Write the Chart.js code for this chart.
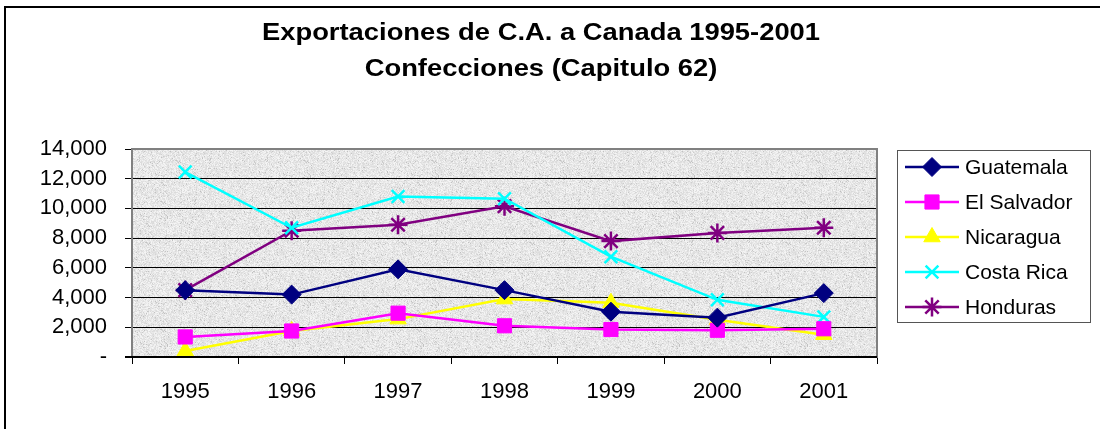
<!DOCTYPE html>
<html>
<head>
<meta charset="utf-8">
<script src="https://cdn.jsdelivr.net/npm/chart.js@4"></script>
<style>
  html, body { margin: 0; padding: 0; background: #fff; }
  #wrap { width: 1100px; height: 429px; }
</style>
</head>
<body>
<div id="wrap"><canvas id="myChart" width="1100" height="429"></canvas></div>
<script>
const years = ['1995', '1996', '1997', '1998', '1999', '2000', '2001']
const guatemala = [4500, 4200, 5900, 4500, 3050, 2650, 4300]
const elSalvador = [1350, 1750, 2950, 2100, 1850, 1800, 1900]
const nicaragua = [400, 1750, 2550, 3900, 3650, 2500, 1500]
const costaRica = [12450, 8700, 10800, 10650, 6750, 3850, 2700]
const honduras = [4500, 8500, 8900, 10150, 7800, 8350, 8700]
const titleLines = ['Exportaciones de C.A. a Canada 1995-2001', 'Confecciones (Capitulo 62)']

const font = 'Arial, "Liberation Sans", sans-serif'

function series(label, data, color, style, radius) {
  return {
    label: label,
    data: data,
    borderColor: color,
    backgroundColor: color,
    borderWidth: 2.5,
    pointStyle: style,
    pointRadius: radius,
    pointBorderWidth: style === 'crossRot' || style === 'star' ? 2.5 : 1,
    pointBorderColor: color,
    pointBackgroundColor: color,
    tension: 0
  }
}

// granite-like texture for the plot area
function makeTexture(ctx) {
  const c = document.createElement('canvas')
  c.width = 128
  c.height = 128
  const g = c.getContext('2d')
  const img = g.createImageData(128, 128)
  let s = 12345
  const rnd = () => { s = (s * 1103515245 + 12345) & 0x7fffffff; return s / 0x7fffffff }
  for (let i = 0; i < 128 * 128; i++) {
    const v = Math.round(232 + (rnd() - 0.5) * 28 - (rnd() < 0.07 ? 28 : 0))
    img.data[i * 4] = v
    img.data[i * 4 + 1] = v
    img.data[i * 4 + 2] = v
    img.data[i * 4 + 3] = 255
  }
  g.putImageData(img, 0, 0)
  return ctx.createPattern(c, 'repeat')
}

const decor = {
  id: 'decor',
  beforeDraw(chart) {
    const { ctx, chartArea: a } = chart
    ctx.save()
    ctx.fillStyle = makeTexture(ctx)
    ctx.fillRect(a.left, a.top, a.right - a.left, a.bottom - a.top)
    ctx.restore()
  },
  afterDraw(chart) {
    const { ctx, chartArea: a } = chart
    ctx.save()
    // plot border and axis
    ctx.strokeStyle = '#808080'
    ctx.lineWidth = 2
    ctx.strokeRect(a.left, a.top, a.right - a.left, a.bottom - a.top)
    ctx.strokeStyle = '#000'
    ctx.beginPath()
    ctx.moveTo(a.left - 7, a.bottom)
    ctx.lineTo(a.right, a.bottom)
    ctx.stroke()
    // outer frame
    ctx.lineWidth = 2
    ctx.strokeRect(5, 7, 1110, 440)

    // title
    ctx.fillStyle = '#000'
    ctx.textAlign = 'center'
    ctx.textBaseline = 'middle'
    ctx.font = 'bold 24px ' + font
    titleLines.forEach((t, i) => {
      ctx.save()
      ctx.translate(541, 33 + i * 36)
      ctx.scale(1.14, 1)
      ctx.fillText(t, 0, 0)
      ctx.restore()
    })

    // legend
    const lx = 897, ly = 150, lw = 193, lh = 172
    ctx.lineWidth = 1
    ctx.strokeStyle = '#555'
    ctx.strokeRect(lx + 0.5, ly + 0.5, lw, lh)
    ctx.font = '21px ' + font
    ctx.textAlign = 'left'
    chart.data.datasets.forEach((ds, i) => {
      const y = ly + 17 + i * 35
      ctx.strokeStyle = ds.borderColor
      ctx.lineWidth = 2.5
      ctx.beginPath()
      ctx.moveTo(lx + 8, y)
      ctx.lineTo(lx + 62, y)
      ctx.stroke()
      ctx.fillStyle = ds.borderColor
      ctx.lineWidth = ds.pointBorderWidth
      Chart.helpers.drawPoint(ctx, {
        pointStyle: ds.pointStyle, radius: ds.pointRadius, rotation: 0,
        borderWidth: ds.pointBorderWidth
      }, lx + 35, y)
      ctx.fillStyle = '#000'
      ctx.fillText(ds.label, lx + 68, y + 1)
    })
    ctx.restore()
  }
}

const ctx = document.getElementById('myChart')

new Chart(ctx, {
  type: 'line',
  data: {
    labels: years,
    datasets: [
      series('Guatemala', guatemala, '#000080', 'rectRot', 9.5),
      series('El Salvador', elSalvador, '#ff00ff', 'rect', 10),
      series('Nicaragua', nicaragua, '#ffff00', 'triangle', 9.5),
      series('Costa Rica', costaRica, '#00ffff', 'crossRot', 9),
      series('Honduras', honduras, '#800080', 'star', 9.5)
    ]
  },
  options: {
    responsive: false,
    animation: false,
    layout: { padding: { left: 0, right: 223, top: 149, bottom: 0 } },
    plugins: {
      legend: { display: false },
      tooltip: { enabled: false },
      title: { display: false }
    },
    scales: {
      x: {
        offset: true,
        grid: {
          offset: true,
          drawOnChartArea: false,
          color: '#000',
          tickLength: 7,
          tickWidth: 1
        },
        border: { display: false },
        ticks: {
          color: '#000',
          font: { family: font, size: 22 },
          padding: 15,
          maxRotation: 0
        },
        afterFit(axis) { axis.height = 72 }
      },
      y: {
        min: 0,
        max: 14000,
        grid: {
          color: '#000',
          lineWidth: 1,
          tickLength: 7
        },
        border: { display: false },
        ticks: {
          stepSize: 2000,
          color: '#000',
          font: { family: font, size: 22 },
          padding: 18,
          callback: v => v === 0 ? '-' : v.toLocaleString('en-US')
        },
        afterFit(axis) { axis.width = 132 }
      }
    }
  },
  plugins: [decor]
})
</script>
</body>
</html>
